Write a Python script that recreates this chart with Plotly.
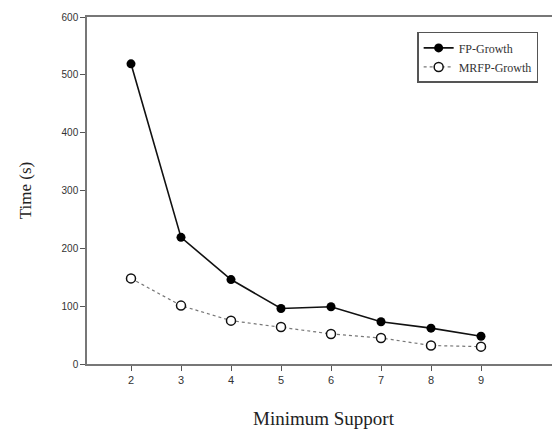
import plotly.graph_objects as go

min_support = [2, 3, 4, 5, 6, 7, 8, 9]
fp_growth = [519, 219, 146, 96, 99, 73, 62, 48]
mrfp_growth = [148, 101, 75, 64, 52, 45, 32, 30]
y_ticks = [0, 100, 200, 300, 400, 500, 600]

fig = go.Figure()
fig.add_trace(go.Scatter(
    x=min_support, y=fp_growth, mode="lines+markers", name="FP-Growth",
    line=dict(color="#111111", width=1.6),
    marker=dict(symbol="circle", size=9, color="#000000"),
))
fig.add_trace(go.Scatter(
    x=min_support, y=mrfp_growth, mode="lines+markers", name="MRFP-Growth",
    line=dict(color="#777777", width=1.2, dash="dot"),
    marker=dict(symbol="circle", size=9, color="white",
                line=dict(color="#111111", width=1.5)),
))

fig.update_layout(
    width=552, height=422,
    margin=dict(l=79, r=0, t=9, b=66, autoexpand=False),
    paper_bgcolor="white", plot_bgcolor="white",
    showlegend=True,
    legend=dict(
        x=0.698, y=0.957, xanchor="left", yanchor="top",
        bgcolor="white", bordercolor="#555555", borderwidth=1.5,
        font=dict(family="Liberation Serif, Times New Roman, serif", size=12, color="#333333"),
        tracegroupgap=0, itemwidth=30,
    ),
)
fig.update_xaxes(
    range=[1.12, 10.58], tickvals=min_support, automargin=False,
    showgrid=False, zeroline=False,
    showline=True, linecolor="#777777", linewidth=1.5, mirror=True,
    ticks="outside", ticklen=5, tickcolor="#555555", tickwidth=1,
    tickfont=dict(family="Liberation Sans, Arial, sans-serif", size=11, color="#333333"),
    title=dict(text="Minimum Support", standoff=27,
               font=dict(family="Liberation Serif, Times New Roman, serif", size=19, color="#222222")),
)
fig.update_yaxes(
    range=[0, 600], tickvals=y_ticks, automargin=False,
    showgrid=False, zeroline=False,
    showline=True, linecolor="#777777", linewidth=1.5,
    ticks="outside", ticklen=5, tickcolor="#555555", tickwidth=1,
    tickfont=dict(family="Liberation Sans, Arial, sans-serif", size=10, color="#333333"),
    title=dict(text="Time (s)", standoff=26,
               font=dict(family="Liberation Serif, Times New Roman, serif", size=17, color="#222222")),
)

fig.write_html("out.html")
